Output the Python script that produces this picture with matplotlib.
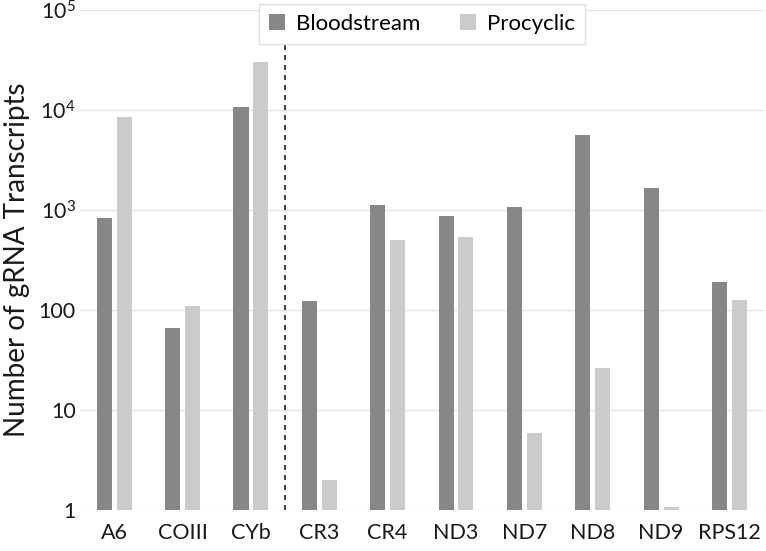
import numpy as np
import matplotlib
matplotlib.use('Agg')
import matplotlib.pyplot as plt
from matplotlib.ticker import FixedLocator, FixedFormatter, NullLocator

plt.rcParams['font.family'] = ['Lato', 'DejaVu Sans']
plt.rcParams['mathtext.fontset'] = 'custom'
plt.rcParams['mathtext.rm'] = 'Lato'

genes = ['A6', 'COIII', 'CYb', 'CR3', 'CR4', 'ND3', 'ND7', 'ND8', 'ND9', 'RPS12']
bloodstream = [830, 66, 10800, 123, 1120, 870, 1060, 5600, 1640, 190]
procyclic = [8500, 110, 30000, 2.0, 500, 535, 5.9, 26.5, 1.08, 125]
ytick_vals = [1, 10, 100, 1e3, 1e4, 1e5]
ytick_labels = ['1', '10', '100', r'$\mathregular{10^3}$', r'$\mathregular{10^4}$', r'$\mathregular{10^5}$']

fig = plt.figure(figsize=(7.66, 5.51), dpi=100)
ax = fig.add_axes([0.1044, 0.0744, 0.8926, 0.9076])

x = np.arange(len(genes))
w = 0.22
ax.bar(x - 0.145, bloodstream, w, color='#878787', label='Bloodstream', zorder=3)
ax.bar(x + 0.145, procyclic, w, color='#cbcbcb', label='Procyclic', zorder=3)

ax.set_yscale('log')
ax.set_ylim(1, 1e5)
ax.set_xlim(-0.5, len(genes) - 0.5)
ax.yaxis.set_major_locator(FixedLocator(ytick_vals))
ax.yaxis.set_major_formatter(FixedFormatter(ytick_labels))
ax.yaxis.set_minor_locator(NullLocator())
ax.set_xticks(x)
ax.set_xticklabels(genes)
ax.tick_params(axis='both', length=0, labelsize=15.5, colors='#1a1a1a')
ax.tick_params(axis='x', pad=9)
ax.tick_params(axis='y', pad=3)
ax.grid(axis='y', color='#e4e4e4', linewidth=1, zorder=0)
for s in ax.spines.values():
    s.set_visible(False)

ax.axvline(2.5, color='#222222', linestyle=(0, (3, 3)), linewidth=1.2, zorder=4)

ax.set_ylabel('Number of gRNA Transcripts', fontsize=20, color='#1a1a1a', labelpad=6)

leg = ax.legend(loc='upper center', bbox_to_anchor=(0.5, 1.012), ncol=2, frameon=True,
                fontsize=16, fancybox=False, handlelength=0.7, handleheight=0.7,
                columnspacing=1.8, handletextpad=0.5, borderpad=0.45, borderaxespad=0,
                framealpha=1)
leg.get_frame().set_edgecolor('#e0e0e0')
leg.get_frame().set_linewidth(1)
leg.set_zorder(5)

fig.savefig('out.png', dpi=100)
